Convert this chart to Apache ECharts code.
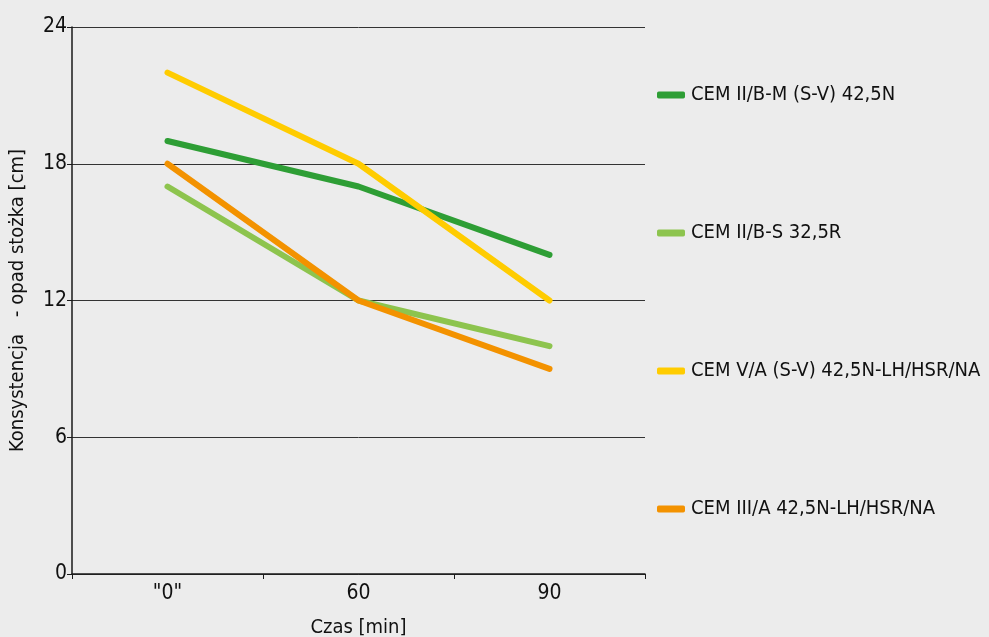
<!DOCTYPE html>
<html>
<head>
<meta charset="utf-8">
<script src="https://cdn.jsdelivr.net/npm/echarts@6/dist/echarts.min.js"></script>
<style>
html,body{margin:0;padding:0;background:#ececec;}
#c{width:989px;height:637px;}
</style>
</head>
<body>
<div id="c"></div>
<script>
var categories = ['"0"', '60', '90'];
var seriesNames = ['CEM II/B-M (S-V) 42,5N', 'CEM II/B-S 32,5R', 'CEM V/A (S-V) 42,5N-LH/HSR/NA', 'CEM III/A 42,5N-LH/HSR/NA'];
var cemIIBM = [19, 17, 14];
var cemIIBS = [17, 12, 10];
var cemVA = [22, 18, 12];
var cemIIIA = [18, 12, 9];
var colors = ['#2e9e35', '#8dc44e', '#ffcc00', '#f39200'];
var yTicks = {min: 0, max: 24, interval: 6};

var FONT = '"Liberation Sans Narrow", "DejaVu Sans Condensed", sans-serif';
var chart = echarts.init(document.getElementById('c'), null, {renderer: 'canvas'});
var dataSets = [cemIIBM, cemIIBS, cemVA, cemIIIA];
chart.setOption({
  backgroundColor: '#ececec',
  animation: false,
  textStyle: {fontFamily: FONT},
  grid: {left: 72, right: 344, top: 27, bottom: 63, containLabel: false, outerBoundsMode: 'none'},
  legend: {
    orient: 'vertical',
    left: 652,
    top: 78,
    itemGap: 114,
    itemWidth: 28,
    itemHeight: 7,
    icon: 'roundRect',
    textStyle: {fontFamily: FONT, fontSize: 20, color: '#111', lineHeight: 24, padding: [0,0,0,1]},
    data: seriesNames
  },
  xAxis: {
    type: 'category',
    data: categories,
    boundaryGap: true,
    name: 'Czas [min]',
    nameLocation: 'middle',
    nameGap: 44,
    nameTextStyle: {fontFamily: FONT, fontSize: 20, color: '#111'},
    axisLine: {lineStyle: {color: '#1a1a1a', width: 1.5}},
    axisTick: {show: true, length: 5, lineStyle: {color: '#1a1a1a'}},
    axisLabel: {fontFamily: FONT, fontSize: 21, color: '#111', margin: 9},
    splitLine: {show: false}
  },
  yAxis: {
    type: 'value',
    min: yTicks.min,
    max: yTicks.max,
    interval: yTicks.interval,
    name: 'Konsystencja   - opad stożka [cm]',
    nameLocation: 'middle',
    nameGap: 44,
    nameTextStyle: {fontFamily: FONT, fontSize: 20, color: '#111'},
    axisLine: {show: true, lineStyle: {color: '#1a1a1a', width: 1.5}},
    axisTick: {show: true, length: 5, lineStyle: {color: '#1a1a1a'}},
    axisLabel: {fontFamily: FONT, fontSize: 21, color: '#111', margin: 5},
    splitLine: {show: true, lineStyle: {color: '#333', width: 1}}
  },
  series: dataSets.map(function (d, i) {
    return {
      name: seriesNames[i],
      type: 'line',
      data: d,
      symbol: 'none',
      color: colors[i],
      lineStyle: {width: 6, color: colors[i], cap: 'round', join: 'round'},
      z: [2, 1, 4, 3][i]
    };
  })
});
</script>
</body>
</html>
